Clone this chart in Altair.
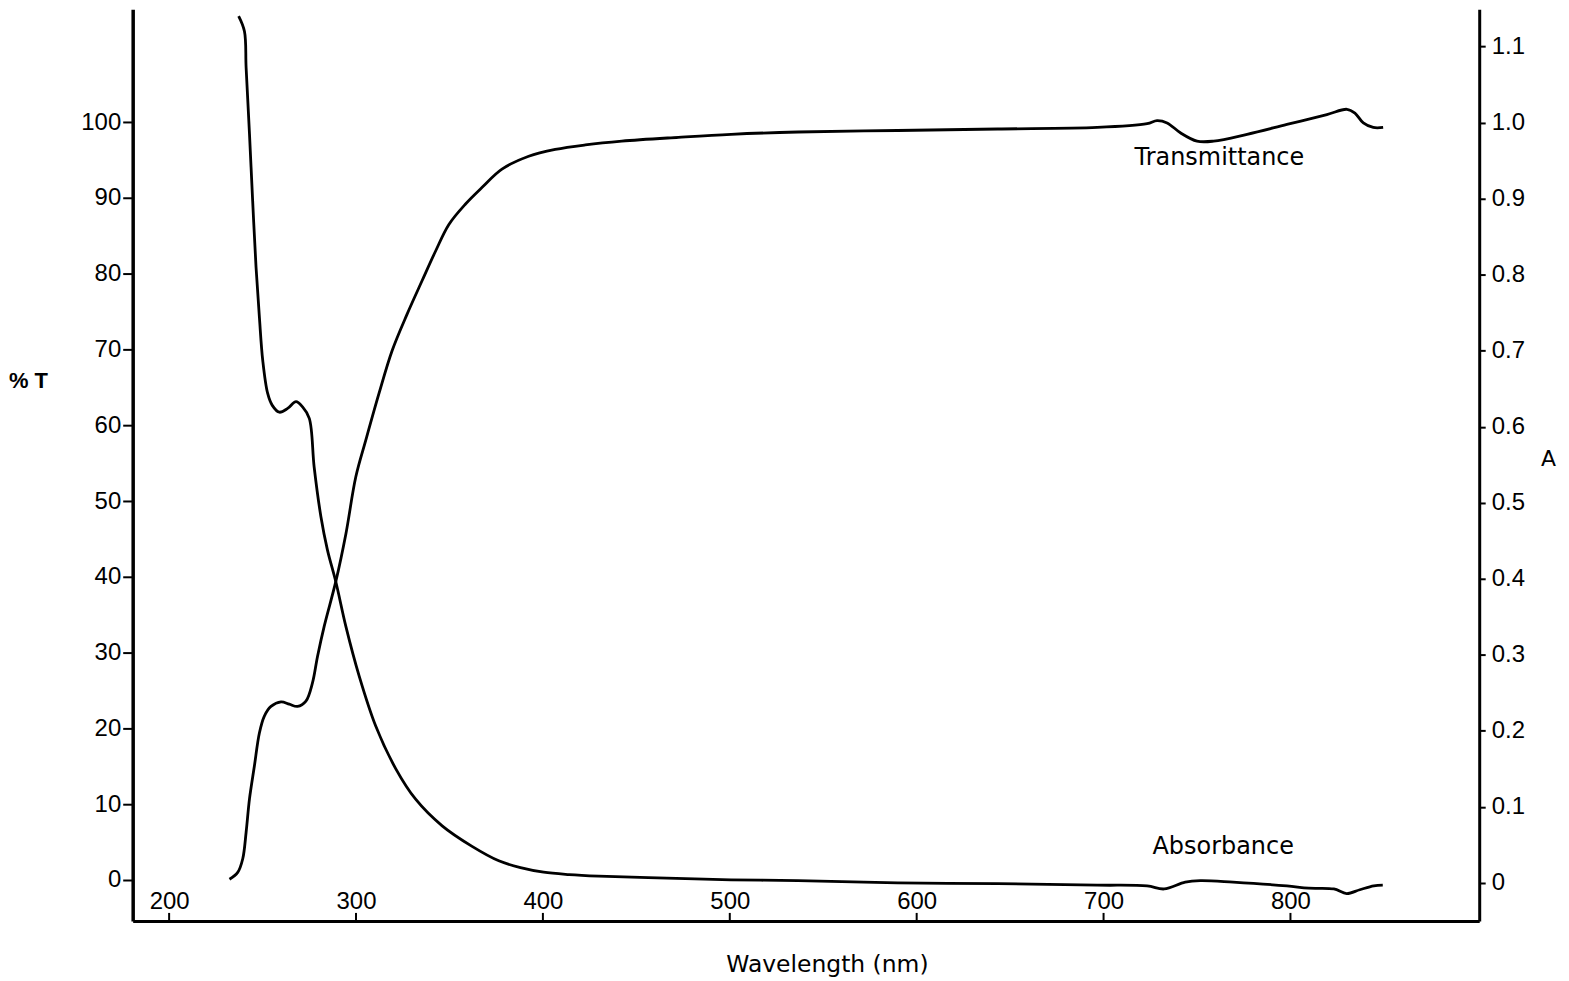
import altair as alt
import pandas as pd

# Transmittance (%T, left axis)
T_WL = [232.3, 236.7, 239.4, 241.2, 243.0, 245.6, 248.3, 250.9, 254.5, 259.9, 264.3, 268.7,
        273.2, 276.7, 279.4, 283.0, 289.2, 294.6, 299.9, 305.2, 312.3, 319.4, 327.4, 335.4,
        342.6, 349.7, 358.6, 367.5, 378.1, 392.4, 406.6, 422.7, 442.2, 472.5, 500.7, 536.5,
        589.8, 643.3, 696.6, 723.3, 728.6, 734.0, 741.1, 750.0, 758.9, 776.8, 798.1, 819.5,
        830.2, 834.5, 839.0, 844.3, 849.6]
T_VAL = [0.1, 1.0, 2.8, 6.3, 10.7, 15.0, 19.4, 21.6, 22.9, 23.5, 23.2, 22.9,
         23.6, 26.0, 29.5, 33.5, 39.4, 45.7, 53.2, 58.0, 64.2, 69.9, 74.7, 79.1,
         83.0, 86.5, 89.2, 91.4, 93.8, 95.5, 96.4, 97.0, 97.5, 98.0, 98.4, 98.7,
         98.9, 99.1, 99.3, 99.8, 100.2, 99.9, 98.6, 97.5, 97.5, 98.4, 99.7, 101.0,
         101.7, 101.2, 99.9, 99.3, 99.3]

# Absorbance (A, right axis)
A_WL = [237.2, 240.3, 241.2, 243.0, 244.7, 246.5, 248.3, 250.1, 252.7, 255.2, 259.0, 263.4,
        267.9, 271.4, 275.0, 277.6, 281.2, 284.7, 289.2, 294.6, 301.7, 310.6, 321.3, 331.9,
        346.1, 362.1, 376.4, 388.0, 400.4, 414.0, 429.8, 456.4, 500.7, 536.5, 589.8, 643.3,
        696.6, 723.3, 732.4, 743.7, 751.7, 769.3, 798.1, 809.8, 823.2, 830.1, 837.1, 844.6,
        849.4]
A_VAL = [1.140, 1.120, 1.072, 0.985, 0.897, 0.810, 0.744, 0.687, 0.644, 0.628, 0.619, 0.624,
         0.633, 0.626, 0.611, 0.547, 0.482, 0.438, 0.396, 0.337, 0.272, 0.206, 0.150, 0.110,
         0.075, 0.048, 0.029, 0.020, 0.014, 0.011, 0.009, 0.007, 0.004, 0.003, 0.000, -0.001,
         -0.003, -0.004, -0.008, 0.001, 0.003, 0.001, -0.004, -0.007, -0.008, -0.014, -0.009,
         -0.004, -0.003]

X_TICKS = [200, 300, 400, 500, 600, 700, 800]
T_TICKS = [0, 10, 20, 30, 40, 50, 60, 70, 80, 90, 100]
A_TICKS = [0, 0.1, 0.2, 0.3, 0.4, 0.5, 0.6, 0.7, 0.8, 0.9, 1.0, 1.1]

LABELS = ["Transmittance", "Absorbance"]
LABEL_WL = [762, 764]
LABEL_T = [95.3, 4.3]

W, H = 1350, 914
NUM_FONT = "Liberation Sans"
TXT_FONT = "DejaVu Sans"

t_df = pd.DataFrame({"wl": T_WL, "T": T_VAL})
a_df = pd.DataFrame({"wl": A_WL, "A": A_VAL})
lab_df = pd.DataFrame({"wl": LABEL_WL, "T": LABEL_T, "label": LABELS})
tick_df = pd.DataFrame({"wl": X_TICKS})

xscale = alt.Scale(domain=[180.5, 901], nice=False, zero=False)
xaxis = alt.Axis(values=X_TICKS, ticks=False, tickSize=0, labelPadding=-19,
                 labelBaseline="middle", labelFontSize=24, labelFont=NUM_FONT,
                 labelColor="black", domainColor="black", domainWidth=3,
                 grid=False, labelFlush=False, labelOverlap=False,
                 title="Wavelength (nm)", titleX=696, titleY=44, titleAlign="center",
                 titleBaseline="middle", titleFont=TXT_FONT, titleFontSize=23.5,
                 titleFontWeight="normal", titleColor="black")

tscale = alt.Scale(domain=[-5.4, 114.9], nice=False, zero=False)
taxis = alt.Axis(values=T_TICKS, tickSize=10, tickWidth=2, tickColor="black",
                 labelPadding=2, labelFontSize=24, labelFont=NUM_FONT, labelColor="black",
                 domainColor="black", domainWidth=3.5, grid=False, labelFlush=False,
                 title="% T", titleAngle=0, titleX=-105, titleY=372, titleAlign="center",
                 titleBaseline="middle", titleFont=NUM_FONT, titleFontSize=22,
                 titleFontWeight="bold", titleColor="black")

ascale = alt.Scale(domain=[-0.050, 1.149], nice=False, zero=False)
aaxis = alt.Axis(values=A_TICKS, orient="right", tickSize=6, tickWidth=2, tickColor="black",
                 labelPadding=6, labelFontSize=24, labelFont=NUM_FONT, labelColor="black",
                 labelExpr="datum.value == 0 ? '0' : format(datum.value, '.1f')",
                 domainColor="black", domainWidth=3, grid=False, labelFlush=False,
                 title="A", titleAngle=0, titleX=69, titleY=450, titleAlign="center",
                 titleBaseline="middle", titleFont=TXT_FONT, titleFontSize=22,
                 titleFontWeight="normal", titleColor="black")

X = lambda: alt.X("wl:Q", scale=xscale, axis=xaxis)

t_line = alt.Chart(t_df).mark_line(color="black", strokeWidth=2.8, interpolate="catmull-rom").encode(
    x=X(), y=alt.Y("T:Q", scale=tscale, axis=taxis), order="wl:Q")

labels = alt.Chart(lab_df).mark_text(font=TXT_FONT, fontSize=24, color="black",
                                     align="center", baseline="middle").encode(
    x=X(), y=alt.Y("T:Q", scale=tscale, axis=taxis), text="label:N")

ticks = alt.Chart(tick_df).mark_rule(color="black", strokeWidth=2).encode(
    x=X(), y=alt.value(H - 8), y2=alt.value(H))

left = alt.layer(t_line, labels, ticks)

a_line = alt.Chart(a_df).mark_line(color="black", strokeWidth=2.8, interpolate="catmull-rom").encode(
    x=X(), y=alt.Y("A:Q", scale=ascale, axis=aaxis), order="wl:Q")

chart = alt.layer(left, a_line).resolve_scale(y="independent").properties(
    width=W, height=H,
    autosize=alt.AutoSizeParams(type="none"),
    padding={"left": 125, "top": 0, "right": 82, "bottom": 58},
    background="white",
).configure_view(stroke=None)

chart.save("out.html", embed_options={"renderer": "svg", "actions": False})
